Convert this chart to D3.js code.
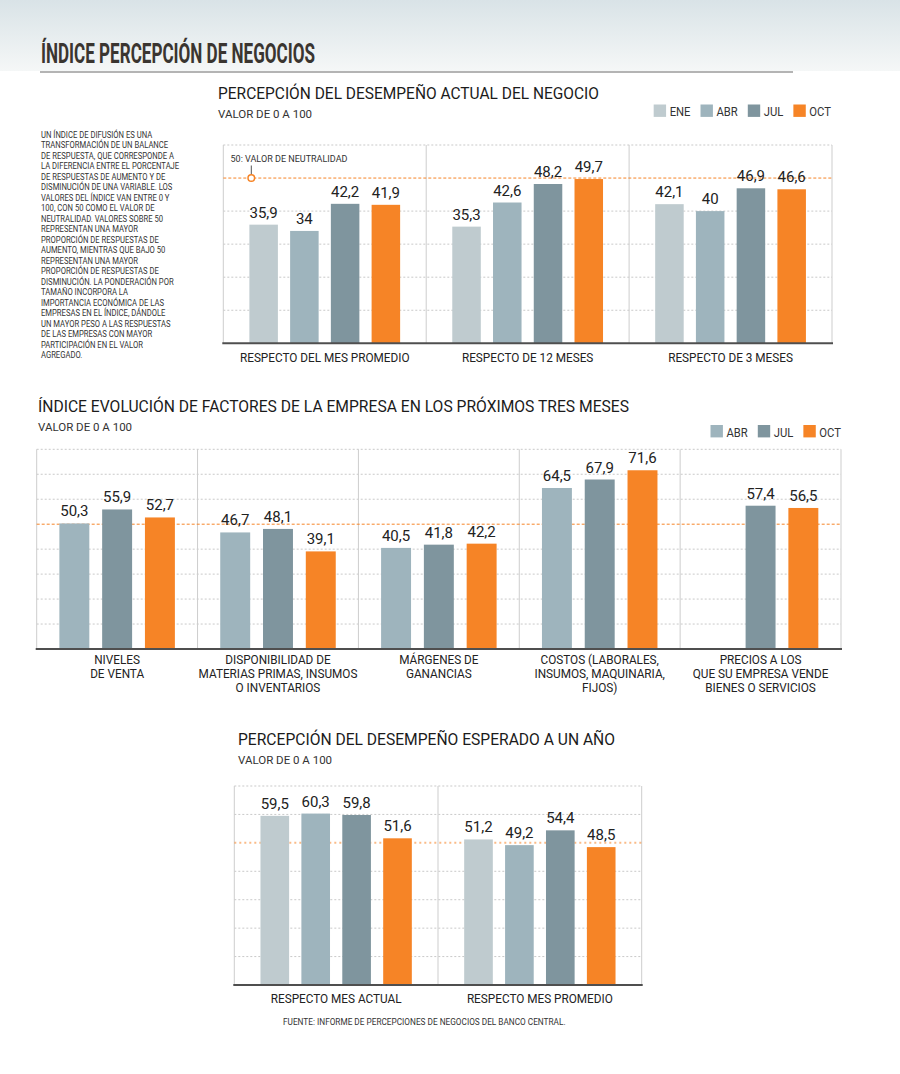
<!DOCTYPE html>
<html>
<head>
<meta charset="utf-8">
<script src="https://cdn.jsdelivr.net/npm/d3@7"></script>
<style>
  body { margin: 0; background: #fff; }
  svg { display: block; font-family: Roboto, "Noto Sans", sans-serif; }
</style>
</head>
<body>
<svg id="chart"></svg>
<script>
// ---- data ----
const months = ["ENE", "ABR", "JUL", "OCT"]
const monthColors = ["#bfcbcf", "#9eb4bd", "#7f959e", "#f68426"]

const actualCategories = ["RESPECTO DEL MES PROMEDIO", "RESPECTO DE 12 MESES", "RESPECTO DE 3 MESES"]
const actualEne = [35.9, 35.3, 42.1]
const actualAbr = [34, 42.6, 40]
const actualJul = [42.2, 48.2, 46.9]
const actualOct = [41.9, 49.7, 46.6]

const factorMonths = ["ABR", "JUL", "OCT"]
const factorCategories = [
    ["NIVELES", "DE VENTA"],
    ["DISPONIBILIDAD DE", "MATERIAS PRIMAS, INSUMOS", "O INVENTARIOS"],
    ["MÁRGENES DE", "GANANCIAS"],
    ["COSTOS (LABORALES,", "INSUMOS, MAQUINARIA,", "FIJOS)"],
    ["PRECIOS A LOS", "QUE SU EMPRESA VENDE", "BIENES O SERVICIOS"]
]
const factorAbr = [50.3, 46.7, 40.5, 64.5, null]
const factorJul = [55.9, 48.1, 41.8, 67.9, 57.4]
const factorOct = [52.7, 39.1, 42.2, 71.6, 56.5]

const expectedCategories = ["RESPECTO MES ACTUAL", "RESPECTO MES PROMEDIO"]
const expectedEne = [59.5, 51.2]
const expectedAbr = [60.3, 49.2]
const expectedJul = [59.8, 54.4]
const expectedOct = [51.6, 48.5]

const neutralValue = 50

const noteLines = [
    "UN ÍNDICE DE DIFUSIÓN ES UNA",
    "TRANSFORMACIÓN DE UN BALANCE",
    "DE RESPUESTA, QUE CORRESPONDE A",
    "LA DIFERENCIA ENTRE EL PORCENTAJE",
    "DE RESPUESTAS DE AUMENTO Y DE",
    "DISMINUCIÓN DE UNA VARIABLE. LOS",
    "VALORES DEL ÍNDICE VAN ENTRE 0 Y",
    "100, CON 50 COMO EL VALOR DE",
    "NEUTRALIDAD. VALORES SOBRE 50",
    "REPRESENTAN UNA MAYOR",
    "PROPORCIÓN DE RESPUESTAS DE",
    "AUMENTO, MIENTRAS QUE BAJO 50",
    "REPRESENTAN UNA MAYOR",
    "PROPORCIÓN DE RESPUESTAS DE",
    "DISMINUCIÓN. LA PONDERACIÓN POR",
    "TAMAÑO INCORPORA LA",
    "IMPORTANCIA ECONÓMICA DE LAS",
    "EMPRESAS EN EL ÍNDICE, DÁNDOLE",
    "UN MAYOR PESO A LAS RESPUESTAS",
    "DE LAS EMPRESAS CON MAYOR",
    "PARTICIPACIÓN EN EL VALOR",
    "AGREGADO."
]

// ---- setup ----
const width = 900
const height = 1074
const ink = "#222"
const orange = "#f68426"

const svg = d3.select("#chart").attr("width", width).attr("height", height)

const fmt = d3.formatLocale({ decimal: ",", thousands: ".", grouping: [3], currency: ["", ""] }).format("")
const colorOf = d3.scaleOrdinal(months, monthColors)

// narrow the default font so it reads like the condensed original
function squeeze(selection, k) {
    selection.each(function () {
        const w = this.getComputedTextLength()
        if (w > 0) {
            this.setAttribute("textLength", w * k)
            this.setAttribute("lengthAdjust", "spacingAndGlyphs")
        }
    })
    return selection
}

// ---- header ----
const defs = svg.append("defs")
const grad = defs.append("linearGradient").attr("id", "headBg").attr("x1", 0).attr("y1", 0).attr("x2", 0).attr("y2", 1)
grad.append("stop").attr("offset", "0%").attr("stop-color", "#d9e3e7")
grad.append("stop").attr("offset", "100%").attr("stop-color", "#f5f7f7")

svg.append("rect").attr("x", 0).attr("y", 0).attr("width", width).attr("height", 71).attr("fill", "url(#headBg)")
svg.append("line").attr("x1", 40).attr("x2", 793).attr("y1", 72).attr("y2", 72)
    .attr("stroke", "#b4b4b4").attr("stroke-width", 2)

svg.append("text")
    .attr("x", 41).attr("y", 63)
    .attr("font-size", 27).attr("font-weight", 700)
    .attr("fill", "#3a3530")
    .attr("textLength", 274).attr("lengthAdjust", "spacingAndGlyphs")
    .text("ÍNDICE PERCEPCIÓN DE NEGOCIOS")

// side note
const note = svg.append("g").attr("fill", "#333").attr("font-size", 8.5)
note.selectAll("text").data(noteLines).join("text")
    .attr("x", 41)
    .attr("y", (d, i) => 137.5 + i * 10.52)
    .text(d => d)
    .call(squeeze, 0.9)

function drawTitle(x, y, title, titleLength, subtitle) {
    svg.append("text")
        .attr("x", x).attr("y", y)
        .attr("font-size", 17).attr("fill", "#1b1b1b")
        .attr("textLength", titleLength).attr("lengthAdjust", "spacingAndGlyphs")
        .text(title)
    svg.append("text")
        .attr("x", x).attr("y", y + 19)
        .attr("font-size", 11.5).attr("fill", "#333")
        .text(subtitle)
}

function drawLegend(keys, right, top) {
    const g = svg.append("g").attr("font-size", 12.5).attr("fill", "#333")
    const items = g.selectAll("g").data(keys).join("g")
    items.append("rect")
        .attr("y", top).attr("width", 12.4).attr("height", 12.4)
        .attr("fill", d => colorOf(d))
    items.append("text")
        .attr("x", 16).attr("y", top + 11.5)
        .text(d => d)
        .call(squeeze, 0.9)
    // lay items out right to left so the last label ends at the plot edge
    let cursor = right
    const nodes = items.nodes().reverse()
    nodes.forEach(node => {
        const textW = +node.querySelector("text").getAttribute("textLength")
        const itemW = 16 + textW
        cursor -= itemW
        d3.select(node).attr("transform", `translate(${cursor},0)`)
        cursor -= 10
    })
}

function drawChart(cfg) {
    const g = svg.append("g")
    const x0 = d3.scaleBand().domain(d3.range(cfg.categories.length)).range([cfg.left, cfg.right])
    const x1 = d3.scaleBand().domain(cfg.keys).range([0, x0.bandwidth()])
        .paddingInner(0.3).paddingOuter(cfg.padOuter)
    const y = d3.scaleLinear().domain([0, cfg.yMax]).range([cfg.bottom, cfg.top])

    // dashed grid
    g.append("g").selectAll("line")
        .data(y.ticks(cfg.yMax / 10).filter(t => t > 0 && t !== neutralValue))
        .join("line")
        .attr("x1", cfg.left).attr("x2", cfg.right)
        .attr("y1", d => y(d)).attr("y2", d => y(d))
        .attr("stroke", "#c9c9c9").attr("stroke-dasharray", "2,2")

    // panel separators
    const edges = x0.domain().map(i => x0(i)).concat([cfg.right])
    g.append("g").selectAll("line").data(edges).join("line")
        .attr("x1", d => d).attr("x2", d => d)
        .attr("y1", cfg.top).attr("y2", cfg.bottom)
        .attr("stroke", "#cdcdcd")

    // neutrality line
    g.append("line")
        .attr("x1", cfg.left).attr("x2", cfg.right)
        .attr("y1", y(neutralValue)).attr("y2", y(neutralValue))
        .attr("stroke", orange).attr("stroke-width", cfg.neutralWidth || 1)
        .attr("stroke-opacity", cfg.neutralOpacity || 1)
        .attr("stroke-dasharray", cfg.neutralDash || "3,2")

    const cells = []
    cfg.categories.forEach((c, i) => {
        cfg.keys.forEach((k, j) => {
            const v = cfg.series[j][i]
            if (v != null) cells.push({ i, key: k, value: v })
        })
    })

    g.append("g").selectAll("rect").data(cells).join("rect")
        .attr("x", d => x0(d.i) + x1(d.key))
        .attr("y", d => y(d.value))
        .attr("width", x1.bandwidth())
        .attr("height", d => y(0) - y(d.value))
        .attr("fill", d => colorOf(d.key))

    g.append("g").attr("font-size", 15).attr("fill", ink).attr("text-anchor", "middle")
        .selectAll("text").data(cells).join("text")
        .attr("x", d => x0(d.i) + x1(d.key) + x1.bandwidth() / 2)
        .attr("y", d => y(d.value) - 7)
        .text(d => fmt(d.value))

    // baseline
    g.append("line")
        .attr("x1", cfg.left - 1).attr("x2", cfg.right + 1)
        .attr("y1", y(0)).attr("y2", y(0))
        .attr("stroke", "#4f4f4f").attr("stroke-width", 2)

    // category labels
    const labels = g.append("g").attr("font-size", 12).attr("fill", ink).attr("text-anchor", "middle")
    cfg.categories.forEach((c, i) => {
        const lines = Array.isArray(c) ? c : [c]
        labels.append("g").selectAll("text").data(lines).join("text")
            .attr("x", x0(i) + x0.bandwidth() / 2)
            .attr("y", (d, k) => cfg.labelY + k * 14)
            .text(d => d)
            .call(squeeze, 0.98)
    })

    return { x0, x1, y }
}

// ---- chart 1: current performance ----
drawTitle(218, 99, "PERCEPCIÓN DEL DESEMPEÑO ACTUAL DEL NEGOCIO", 381, "VALOR DE 0 A 100")
drawLegend(months, 831, 104.5)
const c1 = drawChart({
    categories: actualCategories,
    keys: months,
    series: [actualEne, actualAbr, actualJul, actualOct],
    left: 223.3, right: 832, top: 145, bottom: 343.3,
    yMax: 60, padOuter: 0.64, labelY: 362
})

// neutrality note
const nx = c1.x0(0) + 28
svg.append("text")
    .attr("x", 230.5).attr("y", 162)
    .attr("font-size", 9.5).attr("fill", "#333")
    .text("50: VALOR DE NEUTRALIDAD")
    .call(squeeze, 0.95)
svg.append("line")
    .attr("x1", nx).attr("x2", nx)
    .attr("y1", 165.5).attr("y2", c1.y(neutralValue) - 3.3)
    .attr("stroke", "#555")
svg.append("circle")
    .attr("cx", nx).attr("cy", c1.y(neutralValue)).attr("r", 3.3)
    .attr("fill", "#fff").attr("stroke", orange).attr("stroke-width", 1.5)

// ---- chart 2: factors next three months ----
drawTitle(38, 412, "ÍNDICE EVOLUCIÓN DE FACTORES DE LA EMPRESA EN LOS PRÓXIMOS TRES MESES", 591, "VALOR DE 0 A 100")
drawLegend(factorMonths, 841, 425)
drawChart({
    categories: factorCategories,
    keys: factorMonths,
    series: [factorAbr, factorJul, factorOct],
    left: 36.7, right: 841, top: 449.3, bottom: 649,
    yMax: 80, padOuter: 0.53, labelY: 664
})

// ---- chart 3: expected in a year ----
drawTitle(238, 745, "PERCEPCIÓN DEL DESEMPEÑO ESPERADO A UN AÑO", 377, "VALOR DE 0 A 100")
drawChart({
    categories: expectedCategories,
    keys: months,
    series: [expectedEne, expectedAbr, expectedJul, expectedOct],
    left: 234.3, right: 641.7, top: 786, bottom: 985,
    yMax: 70, padOuter: 0.64, labelY: 1003,
    neutralWidth: 2, neutralOpacity: 0.55, neutralDash: "2,3"
})

svg.append("text")
    .attr("x", 283).attr("y", 1025)
    .attr("font-size", 8.5).attr("fill", "#333")
    .text("FUENTE: INFORME DE PERCEPCIONES DE NEGOCIOS DEL BANCO CENTRAL.")
    .call(squeeze, 0.97)
</script>
</body>
</html>
